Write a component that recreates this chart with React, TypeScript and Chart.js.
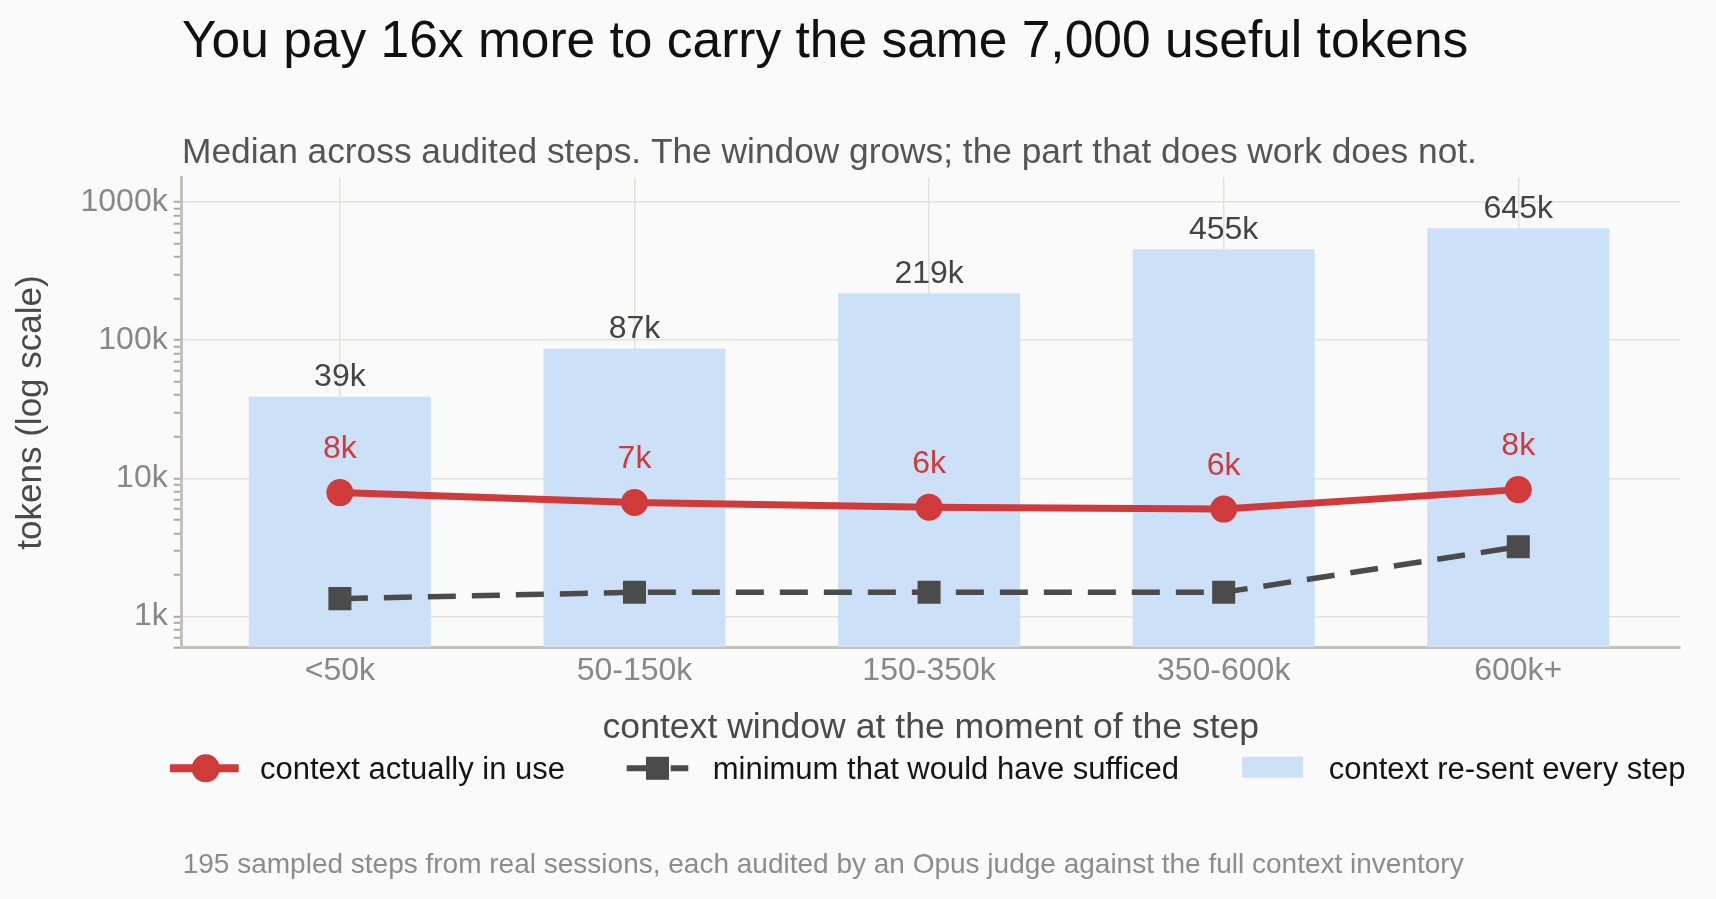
import { useEffect, useRef } from "react";
import { Chart, registerables } from "chart.js";

Chart.register(...registerables);

// ---------- data ----------
const CATEGORIES = ["<50k", "50-150k", "150-350k", "350-600k", "600k+"];
const RESENT = [39000, 87000, 219000, 455000, 645000];
const IN_USE = [7900, 6700, 6200, 6000, 8300];
const MINIMUM = [1350, 1500, 1500, 1500, 3200];
const Y_MAJOR = [1000, 10000, 100000, 1000000];
const Y_LABELS = ["1k", "10k", "100k", "1000k"];
const SERIES_NAMES = [
  "context actually in use",
  "minimum that would have sufficed",
  "context re-sent every step",
];
const TITLE = "You pay 16x more to carry the same 7,000 useful tokens";
const SUBTITLE =
  "Median across audited steps. The window grows; the part that does work does not.";
const X_TITLE = "context window at the moment of the step";
const Y_TITLE = "tokens (log scale)";
const FOOTNOTE =
  "195 sampled steps from real sessions, each audited by an Opus judge against the full context inventory";

// ---------- style ----------
const FONT = "'Liberation Sans', Arial, Helvetica, sans-serif";
const BG = "#fafafa";
const BLUE = "#cce0f8";
const RED = "#d03a3b";
const DARK = "#4b4b4b";
const GRID = "#e2e1da";
const AXIS = "#c3c2ba";

const fmtK = (v: number) => `${Math.round(v / 1000)}k`;
const isPow10 = (v: number) => {
  if (!(v > 0)) return false;
  const l = Math.log10(v);
  return Math.abs(l - Math.round(l)) < 1e-9;
};
const isIntSignificand = (v: number) => {
  if (!(v > 0)) return false;
  const m = v / Math.pow(10, Math.floor(Math.log10(v) + 1e-9));
  return Math.abs(m - Math.round(m)) < 1e-6;
};

const decorPlugin = {
  id: "decor",
  beforeDraw(chart: any) {
    const { ctx, width, height } = chart;
    ctx.save();
    ctx.fillStyle = BG;
    ctx.fillRect(0, 0, width, height);
    ctx.restore();
  },
  afterDatasetsDraw(chart: any) {
    const { ctx } = chart;
    ctx.save();
    ctx.textAlign = "center";
    ctx.textBaseline = "middle";
    ctx.font = `32px ${FONT}`;
    const bars = chart.getDatasetMeta(0).data;
    bars.forEach((el: any, i: number) => {
      ctx.fillStyle = "#444444";
      ctx.fillText(fmtK(RESENT[i]), el.x, el.y - 19.5);
    });
    const pts = chart.getDatasetMeta(1).data;
    pts.forEach((el: any, i: number) => {
      ctx.fillStyle = RED;
      ctx.fillText(fmtK(IN_USE[i]), el.x, el.y - 43);
    });
    ctx.restore();
  },
  afterDraw(chart: any) {
    const { ctx } = chart;
    ctx.save();
    ctx.textAlign = "left";
    ctx.textBaseline = "alphabetic";
    // title
    ctx.fillStyle = "#111111";
    ctx.font = `51.5px ${FONT}`;
    ctx.fillText(TITLE, 182, 56.7);
    // subtitle
    ctx.fillStyle = "#555555";
    ctx.font = `35.3px ${FONT}`;
    ctx.fillText(SUBTITLE, 182, 162.7);

    // legend
    const ly = 768.3;
    ctx.lineCap = "butt";
    // red line + circle
    ctx.strokeStyle = RED;
    ctx.lineWidth = 8;
    ctx.beginPath();
    ctx.moveTo(170, ly);
    ctx.lineTo(238.7, ly);
    ctx.stroke();
    ctx.fillStyle = RED;
    ctx.beginPath();
    ctx.arc(205.7, ly, 14, 0, Math.PI * 2);
    ctx.fill();
    // dark dashed + square
    ctx.strokeStyle = DARK;
    ctx.lineWidth = 6;
    ctx.setLineDash([28, 16]);
    ctx.beginPath();
    ctx.moveTo(626.7, ly);
    ctx.lineTo(688.3, ly);
    ctx.stroke();
    ctx.setLineDash([]);
    ctx.fillStyle = DARK;
    ctx.fillRect(657.5 - 11.5, ly - 11.5, 23, 23);
    // blue box
    ctx.fillStyle = BLUE;
    ctx.fillRect(1242, 756.7, 61, 21);
    // legend texts
    ctx.fillStyle = "#151515";
    ctx.font = `31px ${FONT}`;
    ctx.fillText(SERIES_NAMES[0], 260, 779);
    ctx.fillText(SERIES_NAMES[1], 712.7, 779);
    ctx.fillText(SERIES_NAMES[2], 1328.7, 779);

    // footnote
    ctx.fillStyle = "#8c8c8c";
    ctx.font = `28px ${FONT}`;
    ctx.fillText(FOOTNOTE, 182.7, 873.3);
    ctx.restore();
  },
};

export default function App() {
  const ref = useRef<HTMLCanvasElement | null>(null);

  useEffect(() => {
    document.body.style.margin = "0";
    document.body.style.background = BG;
    Chart.defaults.font.family = FONT;

    const barData = RESENT.map((y, i) => ({ x: i, y }));
    const useData = IN_USE.map((y, i) => ({ x: i, y }));
    const minData = MINIMUM.map((y, i) => ({ x: i, y }));

    const chart = new Chart(ref.current as HTMLCanvasElement, {
      type: "bar",
      data: {
        datasets: [
          {
            type: "bar",
            label: SERIES_NAMES[2],
            data: barData as any,
            backgroundColor: BLUE,
            borderWidth: 0,
            barPercentage: 1,
            categoryPercentage: 0.618,
            order: 3,
          },
          {
            type: "line",
            label: SERIES_NAMES[0],
            data: useData as any,
            borderColor: RED,
            backgroundColor: RED,
            borderWidth: 7,
            pointStyle: "circle",
            pointRadius: 13.5,
            pointHoverRadius: 13.5,
            pointBorderWidth: 0,
            tension: 0,
            order: 1,
          },
          {
            type: "line",
            label: SERIES_NAMES[1],
            data: minData as any,
            borderColor: DARK,
            backgroundColor: DARK,
            borderWidth: 5.5,
            borderDash: [28, 16],
            pointStyle: "rect",
            pointRadius: 16.3,
            pointHoverRadius: 16.3,
            pointBorderWidth: 0,
            tension: 0,
            order: 2,
          },
        ] as any,
      },
      options: {
        animation: false,
        responsive: false,
        events: [],
        layout: {
          padding: { top: 177.7, right: 36, bottom: 131.7, left: 0 },
        },
        plugins: {
          legend: { display: false },
          tooltip: { enabled: false },
          title: { display: false },
        },
        scales: {
          x: {
            type: "linear",
            min: -0.537,
            max: 4.549,
            offset: false,
            afterBuildTicks: (s: any) => {
              s.ticks = CATEGORIES.map((_, i) => ({ value: i }));
            },
            afterFit: (s: any) => {
              s.height = 120;
            },
            ticks: {
              autoSkip: false,
              maxRotation: 0,
              font: { size: 32 },
              color: "#888888",
              padding: 5,
              callback: (v: any) => CATEGORIES[Number(v)] ?? "",
            },
            grid: {
              offset: false,
              color: GRID,
              lineWidth: 1.5,
              drawTicks: false,
            },
            border: { color: AXIS, width: 3 },
            title: {
              display: true,
              text: X_TITLE,
              color: "#4a4a4a",
              font: { size: 35.6, lineHeight: 1 },
              padding: { top: 0, bottom: 21 },
            },
          } as any,
          y: {
            type: "logarithmic",
            min: 600,
            max: 1500000,
            afterBuildTicks: (s: any) => {
              s.ticks = s.ticks.filter((t: any) => isIntSignificand(t.value));
            },
            afterFit: (s: any) => {
              s.width = 181.7;
            },
            ticks: {
              autoSkip: false,
              font: { size: 32 },
              color: "#888888",
              padding: 6,
              callback: (v: any) => {
                const n = Number(v);
                if (!isPow10(n)) return "";
                const idx = Y_MAJOR.findIndex((m) => Math.abs(m - n) < 1e-6 * m);
                return idx >= 0 ? Y_LABELS[idx] : "";
              },
            },
            grid: {
              color: (c: any) =>
                c.tick && isPow10(c.tick.value) ? GRID : "rgba(0,0,0,0)",
              lineWidth: 1.5,
              tickColor: "#a9a9a9",
              tickLength: 8,
              tickWidth: 2,
            },
            border: { color: AXIS, width: 3 },
            title: {
              display: true,
              text: Y_TITLE,
              color: "#4a4a4a",
              font: { size: 35, lineHeight: 1 },
              padding: { top: 14, bottom: 0 },
            },
          } as any,
        },
      },
      plugins: [decorPlugin as any],
    });

    return () => chart.destroy();
  }, []);

  return (
    <div style={{ width: 1716, height: 899, overflow: "hidden", background: BG }}>
      <canvas
        ref={ref}
        width={1716}
        height={899}
        style={{ display: "block", width: 1716, height: 899 }}
      />
    </div>
  );
}
